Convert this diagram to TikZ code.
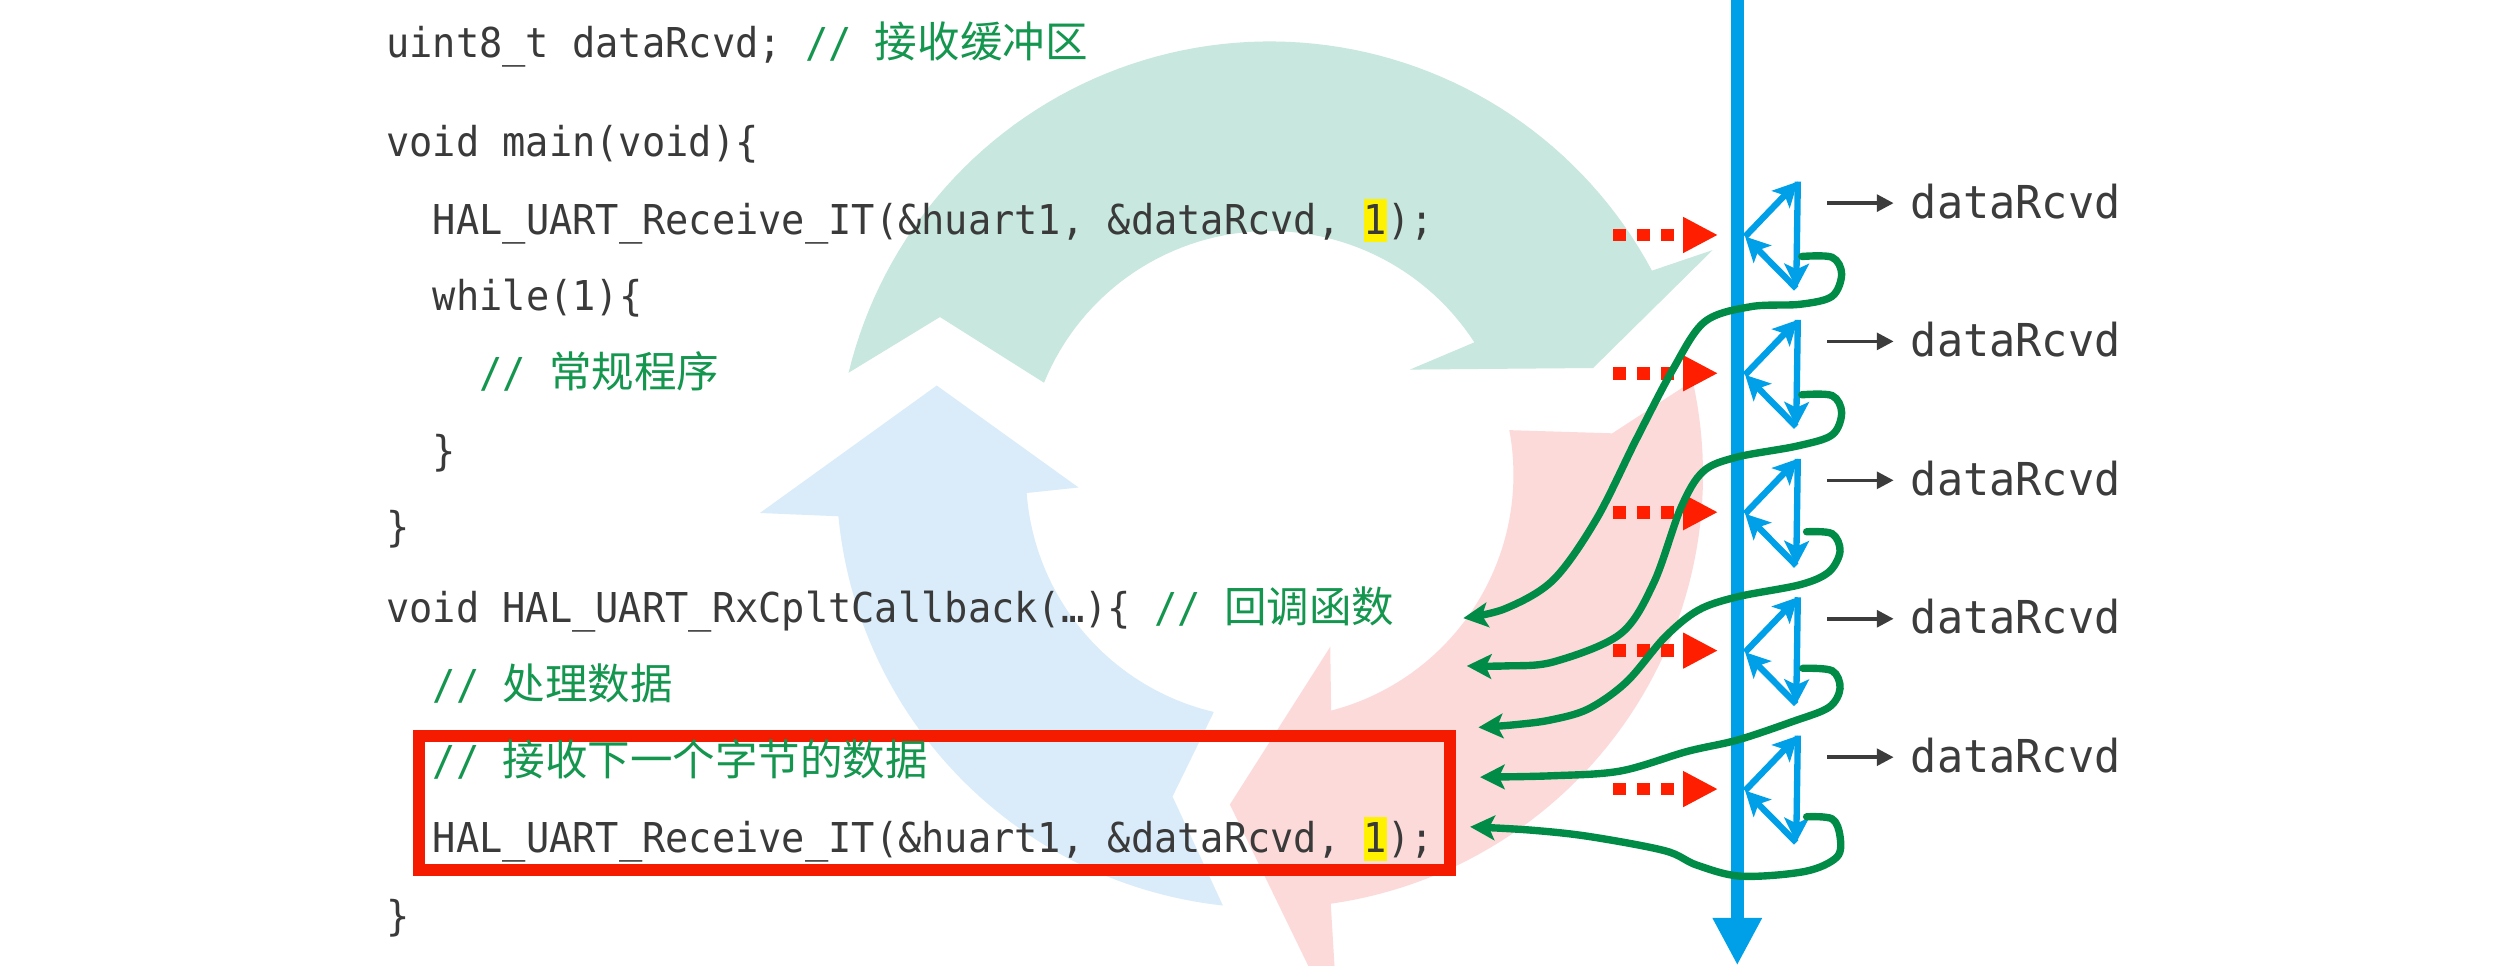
\documentclass[tikz,border=0pt]{standalone}
\usepackage{fontspec}
\usetikzlibrary{arrows.meta}
\newfontfamily\codefont[FakeStretch=0.94]{DejaVu Sans Mono}
\newfontfamily\labfont[FakeStretch=0.96]{DejaVu Sans Mono}
\newfontfamily\cjk[Scale=1.034]{Noto Sans CJK SC}
\definecolor{codegray}{HTML}{3A3A3A}
\definecolor{cmtgreen}{HTML}{14964F}
\definecolor{curvegreen}{HTML}{008C46}
\definecolor{mainblue}{HTML}{00A0E9}
\definecolor{hotred}{HTML}{FF1E00}
\definecolor{boxred}{HTML}{F51B00}
\definecolor{hly}{HTML}{FFF200}
\definecolor{pgreen}{HTML}{C8E7DE}
\definecolor{pblue}{HTML}{DAECFA}
\definecolor{pred}{HTML}{FDDADA}
\definecolor{labgray}{HTML}{3C3C3C}
\newcommand\hlone{{\fboxsep=0pt\colorbox{hly}{\rule[-0.2em]{0pt}{1.05em}1}}}
\newcommand\cmt[1]{{\color{cmtgreen}//~{\cjk #1}}}
\begin{document}
\begin{tikzpicture}[x=0.01593cm, y=-0.01593cm,
  code/.style={anchor=base west, inner sep=0pt, text=codegray,
    font=\codefont\fontsize{11.7pt}{14pt}\selectfont},
  lab/.style={anchor=base west, inner sep=0pt, text=labgray,
    font=\labfont\fontsize{12.9pt}{15pt}\selectfont},
  mainline/.style={draw=mainblue, line width=3.7pt, -{Triangle[length=13.5pt,width=13.1pt]}},
  tri/.style={draw=mainblue, line width=1.8pt, -{Stealth[length=7pt,width=7pt,inset=1.6pt]}},
  reddot/.style={draw=hotred, line width=3.6pt, dash pattern=on 3.7pt off 3.1pt,
    -{Triangle[length=9.9pt,width=9.5pt]}},
  blk/.style={draw=labgray, line width=1pt, -{Triangle[length=4.8pt,width=4.8pt]}},
  gcurve/.style={draw=curvegreen, line width=2.1pt, line cap=round,
    -{Stealth[length=7pt,width=7pt,inset=1.6pt]}},
  redbox/.style={draw=boxred, line width=3.4pt}]

\fill[white] (0,0) rectangle (1568,606);
\useasboundingbox (0,0) rectangle (1568,606);

% ---- pastel cycle arrows ----
\fill[pgreen] (532.6,234) -- (590,199) -- (655.3,240.2)
  -- plot[domain=202.2:327.1,samples=60] ({797+153*cos(\x)},{298+153*sin(\x)})
  -- (885,232) -- (1000,231) -- (1075,157)
  -- plot[domain=331.9:193.6,samples=80] ({797+272*cos(\x)},{298+272*sin(\x)}) -- cycle;
\fill[pblue] (767.6,568.4) -- (736,500) -- (761.6,447.6)
  -- plot[domain=103.3:175.7,samples=50] ({797+153*cos(\x)},{298+153*sin(\x)})
  -- (677,306) -- (588,242) -- (477,322)
  -- plot[domain=174.5:96.2,samples=60] ({797+272*cos(\x)},{298+272*sin(\x)}) -- cycle;
\fill[pred] (1062.6,239.1) -- (1012,272) -- (947.4,270)
  -- plot[domain=349.5:435.4,samples=50] ({797+153*cos(\x)},{298+153*sin(\x)})
  -- (835,406) -- (772,505) -- (840,645)
  -- plot[domain=441.9:347.5,samples=60] ({797+272*cos(\x)},{298+272*sin(\x)}) -- cycle;

% ---- red frame ----
\draw[redbox] (263,462) rectangle (910,546.3);

% ---- code ----
\node[code] (L1) at (242,36) {uint8\_t dataRcvd; \cmt{接收缓冲区}};
\node[code] (L2) at (242,98) {void main(void)\{};
\node[code] (L3) at (271.3,147) {HAL\_UART\_Receive\_IT(\&huart1, \&dataRcvd, \hlone);};
\node[code] (L4) at (271.3,195) {while(1)\{};
\node[code] (L5) at (300.6,243) {\cmt{常规程序}};
\node[code] (L6) at (271.3,292) {\}};
\node[code] (L7) at (242,340) {\}};
\node[code] (L8) at (242,391) {void HAL\_UART\_RxCpltCallback(…)\{ \cmt{回调函数}};
\node[code] (L9) at (271.3,439) {\cmt{处理数据}};
\node[code] (L10) at (271.3,487) {\cmt{接收下一个字节的数据}};
\node[code] (L11) at (271.3,535) {HAL\_UART\_Receive\_IT(\&huart1, \&dataRcvd, \hlone);};
\node[code] (L12) at (242,584) {\}};

% ---- time line ----
\coordinate (top) at (1090.5,-10);
\coordinate (bot) at (1090.5,606);
\draw[mainline] (top) -- (bot);

% ---- rows ----
\foreach \k/\r in {1/147.5,2/234.3,3/321.5,4/408.4,5/495.3}{
  \coordinate (lv\k) at (1095.4,\r+1);
  \coordinate (tr\k) at (1128.5,\r-33.5);
  \coordinate (br\k) at (1127.5,\r+33.5);
  \coordinate (rd\k) at (1012.5,\r);
  \coordinate (bs\k) at (1147,\r-20);
  \node[lab] (lab\k) at (1199,\r-10.5) {dataRcvd};
  \draw[tri] (lv\k) -- (tr\k);
  \draw[tri] (tr\k) -- (br\k);
  \draw[tri] (br\k) -- (lv\k);
  \draw[reddot, shorten >=7.7pt] (rd\k) -- (rd\k -| lv\k);
  \draw[blk, shorten >=4.7pt] (bs\k) -- (bs\k -| lab\k.west);
}

% ---- green return curves ----
\coordinate (gs1) at (1131,161);   \coordinate (gt1) at (918.5,388);
\coordinate (gs2) at (1131,247.8); \coordinate (gt2) at (920.7,418);
\coordinate (gs3) at (1134,333.8); \coordinate (gt3) at (928,456.6);
\coordinate (gs4) at (1131.6,419.5); \coordinate (gt4) at (929,487.8);
\coordinate (gs5) at (1134,512.7); \coordinate (gt5) at (922.8,519);

\draw[gcurve] plot[smooth,tension=0.55] coordinates {(gs1) (1150,161.5) (1156,172) (1150,186) (1130,191) (1099,192.5) (1070,202) (1050,232) (1027,276) (1002,326) (975,364) (945,382) (gt1)};
\draw[gcurve] plot[smooth,tension=0.55] coordinates {(gs2) (1150,248.3) (1156,259) (1150,273) (1128,280) (1090,287) (1069,296) (1055,319) (1038,366) (1017,398) (975,415.5) (945,418) (gt2)};
\draw[gcurve] plot[smooth,tension=0.55] coordinates {(gs3) (1150,335) (1155,346) (1148,359) (1130,367) (1090.7,374.6) (1066,383) (1045,400) (1021,428) (997,445) (973,452) (950,455) (gt3)};
\draw[gcurve] plot[smooth,tension=0.55] coordinates {(gs4) (1150,421) (1155,432) (1148,444) (1125,453) (1090.7,464.5) (1059,471.7) (1017,484) (973,487) (gt4)};
\draw[gcurve] plot[smooth,tension=0.55] coordinates {(gs5) (1150,514) (1155,525) (1153,538) (1133,547) (1093,550) (1065,543) (1045,534) (997,525) (960,521) (gt5)};

\end{tikzpicture}
\end{document}
